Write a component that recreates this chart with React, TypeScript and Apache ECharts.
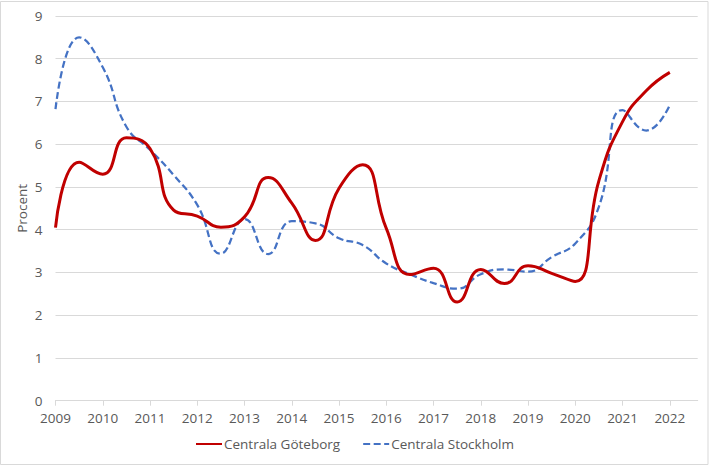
import React, { useEffect, useRef } from "react";
import * as echarts from "echarts";

const years: number[] = [
  2009, 2009.5, 2010, 2010.5, 2011, 2011.5, 2012, 2012.5, 2013, 2013.5,
  2014, 2014.5, 2015, 2015.5, 2016, 2016.5, 2017, 2017.5, 2018, 2018.5,
  2019, 2019.5, 2020, 2020.5, 2021, 2021.5, 2022,
];

const goteborg: number[] = [
  4.05, 5.58, 5.3, 6.15, 5.9, 4.46, 4.32, 4.06, 4.3, 5.22,
  4.62, 3.75, 4.97, 5.52, 4.03, 2.95, 3.1, 2.31, 3.07, 2.74,
  3.16, 2.98, 2.79, 5.15, 6.53, 7.25, 7.68,
];

const stockholm: number[] = [
  6.82, 8.5, 7.8, 6.41, 5.87, 5.28, 4.58, 3.44, 4.25, 3.43,
  4.2, 4.15, 3.8, 3.64, 3.21, 2.96, 2.75, 2.62, 2.96, 3.07,
  3.02, 3.36, 3.68, 4.54, 6.8, 6.32, 6.92,
];

const yearTicks: number[] = [
  2009, 2010, 2011, 2012, 2013, 2014, 2015, 2016, 2017, 2018, 2019, 2020, 2021, 2022,
];

const seriesNames: string[] = ["Centrala Göteborg", "Centrala Stockholm"];
const yAxisTitle = "Procent";

const FONT = "'Open Sans', 'Noto Sans', sans-serif";
const TEXT = "#595959";
const GRID = "#d9d9d9";
const FS = 13.5;

export default function App() {
  const ref = useRef<HTMLDivElement>(null);

  useEffect(() => {
    document.body.style.margin = "0";
    if (!ref.current) return;
    const chart = echarts.init(ref.current, undefined, { renderer: "svg" });
    const toPairs = (vals: number[]) => vals.map((v, i) => [years[i], v]);
    chart.setOption({
      animation: false,
      backgroundColor: "#ffffff",
      textStyle: { fontFamily: FONT },
      grid: { left: 55.5, right: 11.3, top: 16, bottom: 66.3, containLabel: false },
      graphic: [
        {
          type: "rect",
          shape: { x: 0.5, y: 1.5, width: 707.5, height: 463 },
          style: { fill: "none", stroke: GRID, lineWidth: 1 },
          silent: true,
          z: -1,
        },
      ],
      legend: {
        data: seriesNames,
        left: "center",
        top: 432,
        itemWidth: 26,
        itemHeight: 14,
        itemGap: 22,
        itemStyle: { opacity: 0 },
        textStyle: { color: TEXT, fontSize: FS, fontFamily: FONT, padding: [0, 0, 0, -3] },
      },
      xAxis: {
        type: "value",
        min: 2009,
        max: 2022.59,
        axisLine: { show: true, lineStyle: { color: GRID, width: 1 } },
        axisTick: {
          show: true,
          customValues: yearTicks,
          length: 5,
          lineStyle: { color: GRID },
        },
        axisLabel: {
          customValues: yearTicks,
          color: TEXT,
          fontSize: FS,
          fontFamily: FONT,
          margin: 10,
          formatter: (v: number) => String(Math.round(v)),
        },
        splitLine: { show: false },
      },
      yAxis: {
        type: "value",
        min: 0,
        max: 9,
        interval: 1,
        name: yAxisTitle,
        nameLocation: "middle",
        nameGap: 27,
        nameMoveOverlap: false,
        nameTextStyle: { color: TEXT, fontSize: FS, fontFamily: FONT },
        axisLine: { show: false },
        axisTick: { show: false },
        axisLabel: { color: TEXT, fontSize: FS, fontFamily: FONT, margin: 13 },
        splitLine: { lineStyle: { color: GRID, width: 1 } },
      },
      series: [
        {
          name: seriesNames[0],
          type: "line",
          data: toPairs(goteborg),
          smooth: 0.5,
          symbol: "none",
          lineStyle: { color: "#C00000", width: 3 },
          itemStyle: { color: "#C00000" },
          z: 3,
        },
        {
          name: seriesNames[1],
          type: "line",
          data: toPairs(stockholm),
          smooth: 0.5,
          symbol: "none",
          lineStyle: { color: "#4472C4", width: 2.25, type: [7, 3.5] },
          itemStyle: { color: "#4472C4" },
          z: 2,
        },
      ],
    });
    return () => chart.dispose();
  }, []);

  return <div ref={ref} style={{ width: 709, height: 467 }} />;
}
